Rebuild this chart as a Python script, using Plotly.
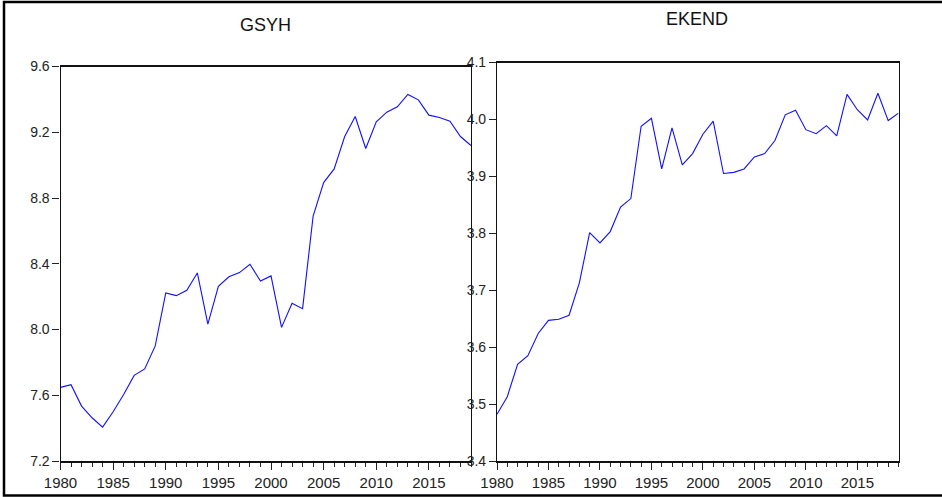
import plotly.graph_objects as go

years = list(range(1980, 2020))

gsyh = [7.648, 7.664, 7.534, 7.463, 7.406, 7.500, 7.605, 7.721, 7.760, 7.900,
        8.222, 8.206, 8.239, 8.344, 8.033, 8.263, 8.321, 8.346, 8.397, 8.295,
        8.326, 8.013, 8.160, 8.127, 8.690, 8.894, 8.977, 9.174, 9.296, 9.101,
        9.263, 9.322, 9.355, 9.430, 9.397, 9.304, 9.290, 9.267, 9.174, 9.119]

ekend = [3.482, 3.513, 3.570, 3.585, 3.624, 3.647, 3.649, 3.656, 3.713, 3.801,
         3.783, 3.803, 3.846, 3.861, 3.988, 4.002, 3.913, 3.985, 3.920, 3.940,
         3.974, 3.997, 3.905, 3.907, 3.913, 3.934, 3.940, 3.963, 4.008, 4.016,
         3.982, 3.975, 3.989, 3.971, 4.044, 4.017, 3.999, 4.046, 3.998, 4.011]

titles = ["GSYH", "EKEND"]
x_ticks = [1980, 1985, 1990, 1995, 2000, 2005, 2010, 2015]
gsyh_ticks = [7.2, 7.6, 8.0, 8.4, 8.8, 9.2, 9.6]
ekend_ticks = [3.4, 3.5, 3.6, 3.7, 3.8, 3.9, 4.0, 4.1]

W, H = 942, 497
FONT = "Liberation Sans Narrow, Arial Narrow, Liberation Sans, Arial"
LINE = "#1010ff"

fig = go.Figure()
fig.add_trace(go.Scatter(x=years, y=gsyh, mode="lines", line=dict(color=LINE, width=1.1),
                         xaxis="x", yaxis="y", showlegend=False))
fig.add_trace(go.Scatter(x=years, y=ekend, mode="lines", line=dict(color=LINE, width=1.1),
                         xaxis="x2", yaxis="y2", showlegend=False))

def xax(domain, anchor):
    return dict(domain=domain, anchor=anchor, range=[1980, 2019], automargin=False,
                tickmode="array", tickvals=x_ticks, ticktext=[str(v) for v in x_ticks],
                ticks="outside", ticklen=7, tickwidth=1, tickcolor="#222",
                minor=dict(tickmode="linear", tick0=1980, dtick=1, ticks="outside",
                           ticklen=4, tickwidth=1, tickcolor="#222"),
                showline=True, linecolor="#111", linewidth=1.6, mirror=True,
                showgrid=False, zeroline=False,
                tickfont=dict(family=FONT, size=15, color="#222"))

def yax(domain, anchor, rng, vals):
    return dict(domain=domain, anchor=anchor, range=rng, automargin=False,
                tickmode="array", tickvals=vals, ticktext=["%.1f" % v for v in vals],
                ticks="outside", ticklen=7, tickwidth=1, tickcolor="#222",
                showline=True, linecolor="#111", linewidth=1.2, mirror=True,
                showgrid=False, zeroline=False,
                tickfont=dict(family=FONT, size=14, color="#222"))

fig.update_layout(
    width=W, height=H, autosize=False,
    margin=dict(l=0, r=0, t=0, b=0, autoexpand=False),
    paper_bgcolor="white", plot_bgcolor="white",
    xaxis=xax([60.5 / W, 471 / W], "y"),
    yaxis=yax([(H - 461) / H, (H - 66.5) / H], "x", [7.2, 9.6], gsyh_ticks),
    xaxis2=xax([497 / W, 898.5 / W], "y2"),
    yaxis2=yax([(H - 461) / H, (H - 62.5) / H], "x2", [3.4, 4.1], ekend_ticks),
    annotations=[
        dict(text=titles[0], x=265 / W, y=1 - 24.5 / H, xref="paper", yref="paper",
             showarrow=False, xanchor="center", yanchor="middle",
             font=dict(family=FONT, size=18, color="#111")),
        dict(text=titles[1], x=697 / W, y=1 - 19 / H, xref="paper", yref="paper",
             showarrow=False, xanchor="center", yanchor="middle",
             font=dict(family=FONT, size=18, color="#111")),
    ],
    shapes=[
        dict(type="rect", xref="paper", yref="paper",
             x0=4 / W, x1=1.05, y0=(H - 495.5) / H, y1=(H - 2) / H,
             line=dict(color="black", width=2.5), fillcolor="rgba(0,0,0,0)", layer="above"),
    ],
)

fig.write_html("out.html", config={"displayModeBar": False},
               post_script="document.body.style.margin='0';document.body.style.overflow='hidden';")
